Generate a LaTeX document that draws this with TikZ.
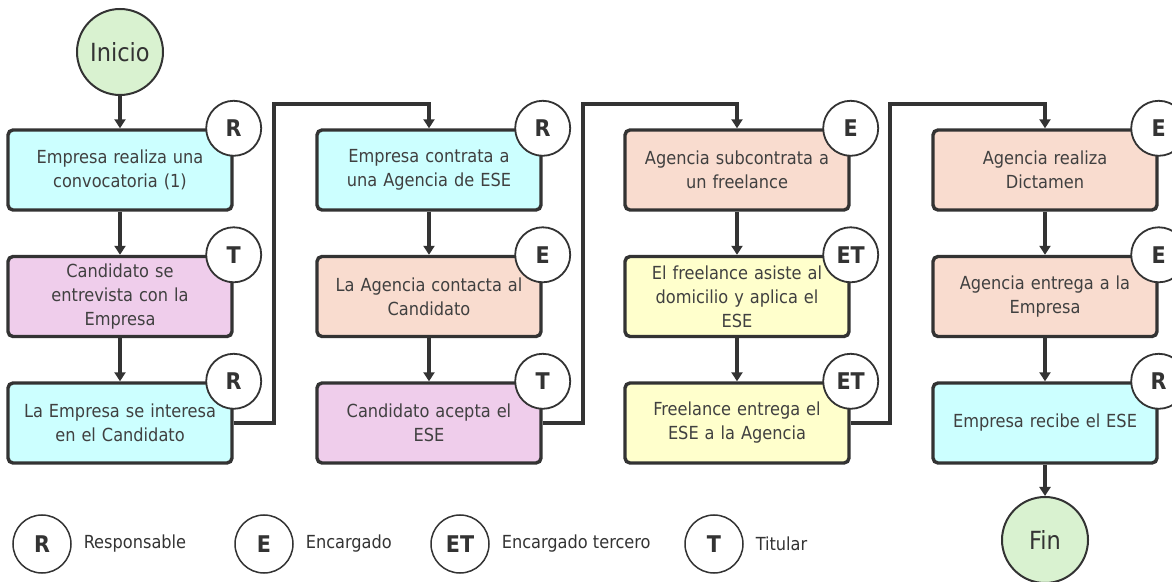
\documentclass[tikz,border=0pt]{standalone}
\usepackage{fontspec}
\setmainfont{DejaVu Sans Condensed}
\usetikzlibrary{positioning,arrows.meta}
\definecolor{linea}{HTML}{333333}
\definecolor{texto}{HTML}{404040}
\definecolor{cian}{HTML}{CCFFFF}
\definecolor{rosa}{HTML}{EFCDEB}
\definecolor{durazno}{HTML}{F9DCCF}
\definecolor{crema}{HTML}{FFFFCC}
\definecolor{verde}{HTML}{D9F2D0}
\begin{document}
\begin{tikzpicture}[x=1pt, y=1pt, line width=3.4pt, draw=linea,
    >={Triangle[length=9pt,width=11pt]},
    main/.style = {draw=linea, rounded corners=5pt, text width=212pt, inner xsep=6pt,
      minimum height=80pt, align=center, text=texto,
      font=\fontsize{18}{24}\selectfont},
    rol/.style = {draw=linea, circle, fill=white, line width=1.8pt, minimum size=55pt,
      inner sep=0pt, text=linea, font=\fontsize{23}{23}\selectfont\bfseries},
    terminal/.style = {draw=linea, circle, fill=verde, line width=2pt, minimum size=86pt,
      inner sep=0pt, text=linea, font=\fontsize{25}{25}\selectfont},
    leyenda/.style = {right=7pt, text=linea, font=\fontsize{18}{20}\selectfont},
    node distance = 126.5pt]
    \useasboundingbox (0,0) rectangle (1172,581);
    \clip (0,0) rectangle (1172,581);

    \node[terminal](inicio) at (120,529) {Inicio};
    % columna 1
    \node[main, fill=cian](1) at (120,411) {Empresa realiza una\\convocatoria (1)};
    \node[main, fill=rosa](2) [below of=1] {Candidato se\\entrevista con la\\Empresa};
    \node[main, fill=cian](3) [below of=2] {La Empresa se interesa\\en el Candidato};
    % columna 2
    \node[main, fill=cian](4) at (429,411) {Empresa contrata a\\una Agencia de ESE};
    \node[main, fill=durazno](5) [below of=4] {La Agencia contacta al\\Candidato};
    \node[main, fill=rosa](6) [below of=5] {Candidato acepta el\\ESE};
    % columna 3
    \node[main, fill=durazno](7) at (737,411) {Agencia subcontrata a\\un freelance};
    \node[main, fill=crema](8) [below of=7] {El freelance asiste al\\domicilio y aplica el\\ESE};
    \node[main, fill=crema](9) [below of=8] {Freelance entrega el\\ESE a la Agencia};
    % columna 4
    \node[main, fill=durazno](10) at (1045,411) {Agencia realiza\\Dictamen};
    \node[main, fill=durazno](11) [below of=10] {Agencia entrega a la\\Empresa};
    \node[main, fill=cian](12) [below of=11] {Empresa recibe el ESE};
    \node[terminal](fin) at (1045,41) {Fin};

    \foreach \n/\l in {1/R, 2/T, 3/R, 4/R, 5/E, 6/T, 7/E, 8/ET, 9/ET, 10/E, 11/E, 12/R}
        \node[rol](b\n) at (\n.north east) {\l};

    \coordinate (c1) at (274,477);
    \coordinate (c2) at (583,477);
    \coordinate (c3) at (890,477);

    \draw[->] (inicio) to (1);
    \draw[->] (1) to (2);
    \draw[->] (2) to (3);
    \draw[->] (3.east) -| (c1) -| (4.north);
    \draw[->] (4) to (5);
    \draw[->] (5) to (6);
    \draw[->] (6.east) -| (c2) -| (7.north);
    \draw[->] (7) to (8);
    \draw[->] (8) to (9);
    \draw[->] (9.east) -| (c3) -| (10.north);
    \draw[->] (10) to (11);
    \draw[->] (11) to (12);
    \draw[->] (12) to (fin);

    % leyenda
    \node[rol, minimum size=58pt, line width=1.5pt](lr) at (42,37) {R};
    \node[leyenda](lrt) at (lr.east) [anchor=west] {Responsable};
    \node[rol, minimum size=58pt, line width=1.5pt](le) at (264,37) {E};
    \node[leyenda](let) at (le.east) [anchor=west] {Encargado};
    \node[rol, minimum size=58pt, line width=1.5pt](let2) at (460,37) {ET};
    \node[leyenda](lett) at (let2.east) [anchor=west] {Encargado tercero};
    \node[rol, minimum size=58pt, line width=1.5pt](lt) at (714,37) {T};
    \node[leyenda](ltt) at (lt.east) [anchor=west] {Titular};
\end{tikzpicture}
\end{document}
